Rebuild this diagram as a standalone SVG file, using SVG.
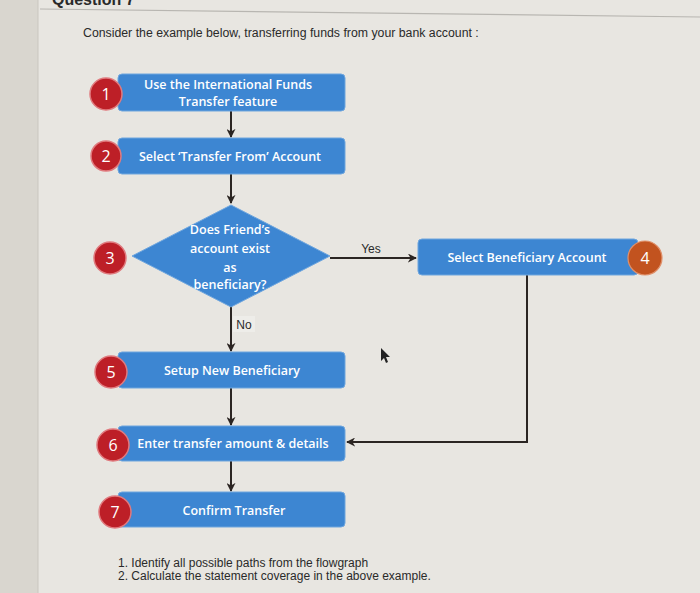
<svg xmlns="http://www.w3.org/2000/svg" width="700" height="593" viewBox="0 0 700 593">
<defs>
<marker id="ah" viewBox="0 0 10 10" refX="9" refY="5" markerWidth="9" markerHeight="9" markerUnits="userSpaceOnUse" orient="auto">
<path d="M0,0 L10,5 L0,10 L3,5 Z" fill="#2b2522"/>
</marker>
</defs>
<style>
.box{fill:#3d86d2;stroke:#6fa6de;stroke-width:1}
.bt{font-family:"Open Sans","Noto Sans",sans-serif;font-size:12.5px;font-weight:600;fill:#ffffff;text-anchor:middle}
.num{fill:#bd1f27;stroke:#e07a7e;stroke-width:1.5}
.nt{font-family:"Open Sans","Noto Sans",sans-serif;font-size:16px;fill:#ffffff;text-anchor:middle}
.ln{stroke:#2b2522;stroke-width:2;fill:none}
.tx{font-family:"Liberation Sans",Arial,sans-serif;fill:#2a2a2a}
</style>
<rect width="700" height="593" fill="#e8e6e1"/>
<rect width="38" height="593" fill="#d9d6cf"/>
<line x1="38" y1="0" x2="38" y2="593" stroke="#c9c6bf" stroke-width="1"/>
<text class="tx" x="52" y="5" font-size="16" font-weight="bold">Question 7</text>
<line x1="40" y1="9" x2="700" y2="17" stroke="#b8b6b1" stroke-width="1.2"/>
<text class="tx" x="83" y="37" font-size="12.3">Consider the example below, transferring funds from your bank account :</text>

<g id="connectors">
<line class="ln" x1="231" y1="111" x2="231" y2="137" marker-end="url(#ah)"/>
<line class="ln" x1="231" y1="174" x2="231" y2="203" marker-end="url(#ah)"/>
<line class="ln" x1="330" y1="258" x2="416" y2="258" marker-end="url(#ah)"/>
<line class="ln" x1="231" y1="306" x2="231" y2="351" marker-end="url(#ah)"/>
<line class="ln" x1="231" y1="388" x2="231" y2="425" marker-end="url(#ah)"/>
<polyline class="ln" points="527,275 527,442 347,442" marker-end="url(#ah)"/>
<line class="ln" x1="231" y1="461" x2="231" y2="491" marker-end="url(#ah)"/>
<text class="tx" x="371" y="253" font-size="12" text-anchor="middle">Yes</text>
<rect x="233" y="316" width="22" height="16" fill="#eeede9"/>
<text class="tx" x="244" y="329" font-size="12" text-anchor="middle">No</text>
</g>

<g id="n1">
<rect class="box" x="118" y="74" width="227" height="37" rx="4"/>
<text class="bt" x="228" y="89">Use the International Funds</text>
<text class="bt" x="228" y="106">Transfer feature</text>
<circle class="num" cx="106" cy="94" r="16"/>
<text class="nt" x="106" y="100">1</text>
</g>
<g id="n2">
<rect class="box" x="118" y="138" width="227" height="36" rx="4"/>
<text class="bt" x="230" y="161">Select ‘Transfer From’ Account</text>
<circle class="num" cx="106" cy="156" r="15"/>
<text class="nt" x="106" y="162">2</text>
</g>
<g id="n3">
<polygon points="231,205 330,256 231,307 132,256" fill="#3d86d2" stroke="#6fa6de" stroke-width="1"/>
<text class="bt" x="230" y="234">Does Friend’s</text>
<text class="bt" x="230" y="253">account exist</text>
<text class="bt" x="230" y="272" font-size="11.5">as</text>
<text class="bt" x="230" y="289">beneficiary?</text>
<circle class="num" cx="110" cy="258" r="16"/>
<text class="nt" x="110" y="264">3</text>
</g>
<g id="n4">
<rect class="box" x="418" y="239" width="220" height="36" rx="4"/>
<text class="bt" x="527" y="262">Select Beneficiary Account</text>
<circle cx="645" cy="258" r="17" fill="#c2531f" stroke="#e0906a" stroke-width="1.2"/>
<text class="nt" x="645" y="264">4</text>
</g>
<g id="n5">
<rect class="box" x="118" y="352" width="227" height="36" rx="4"/>
<text class="bt" x="232" y="375">Setup New Beneficiary</text>
<circle class="num" cx="111" cy="372" r="16"/>
<text class="nt" x="111" y="378">5</text>
</g>
<g id="n6">
<rect class="box" x="118" y="426" width="227" height="35" rx="4"/>
<text class="bt" x="233" y="448">Enter transfer amount &amp; details</text>
<circle class="num" cx="113" cy="445" r="16"/>
<text class="nt" x="113" y="451">6</text>
</g>
<g id="n7">
<rect class="box" x="118" y="492" width="227" height="35" rx="4"/>
<text class="bt" x="234" y="515">Confirm Transfer</text>
<circle class="num" cx="115" cy="512" r="16"/>
<text class="nt" x="115" y="518">7</text>
</g>

<path d="M381,348 L381,361 L384,358 L386,363 L388,362 L386,357 L390,357 Z" fill="#222"/>

<text class="tx" x="118" y="567" font-size="12">1.  Identify all possible paths from the flowgraph</text>
<text class="tx" x="118" y="580" font-size="12">2.  Calculate the statement coverage in the above example.</text>
</svg>
